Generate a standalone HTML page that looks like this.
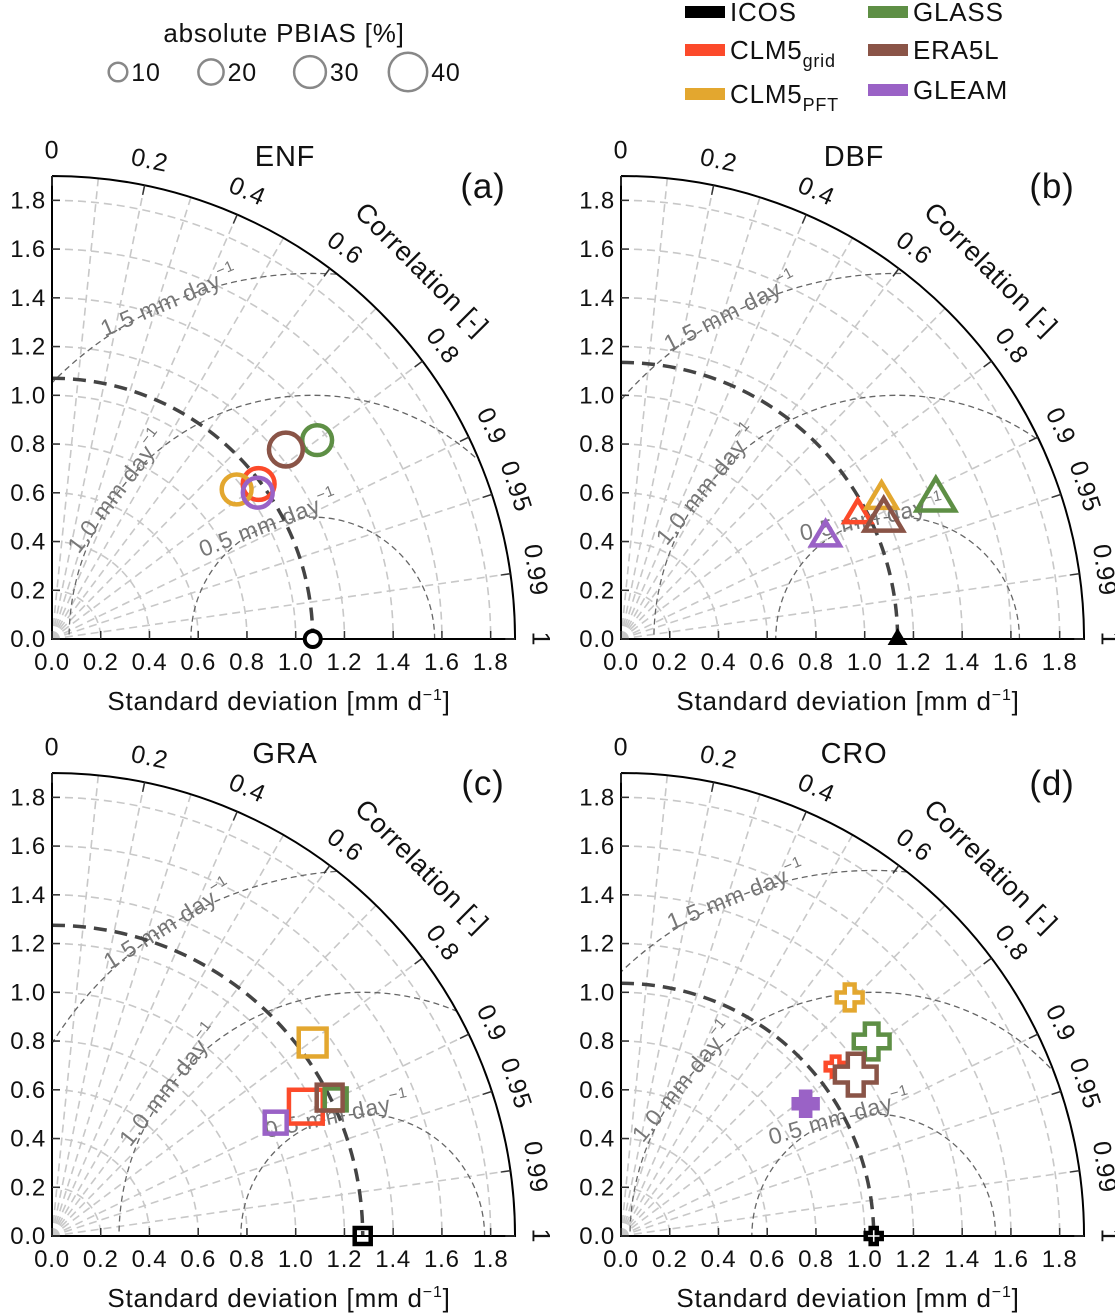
<!DOCTYPE html>
<html><head><meta charset="utf-8"><style>
html,body{margin:0;background:#fff;overflow:hidden;width:1115px;height:1313px}
svg{display:block;font-family:"Liberation Sans","DejaVu Sans",sans-serif}
svg text{letter-spacing:0.8px}
</style></head><body>
<svg id="c" width="1115" height="1313" viewBox="0 0 1115 1313"></svg>
<script>
// ---- data ----
const products=["CLM5grid","CLM5PFT","GLASS","ERA5L","GLEAM"];
const refStd=[1.07,1.135,1.275,1.037];
const stdA=[1.06,0.975,1.36,1.235,1.036];
const corA=[0.80,0.777,0.80,0.777,0.815];
const pbA=[27,24,24,30,24];
const stdB=[1.099,1.215,1.415,1.186,0.939];
const corB=[0.884,0.88,0.913,0.909,0.894];
const pbB=[21,27,40,40,24];
const stdC=[1.169,1.332,1.292,1.273,1.029];
const corC=[0.891,0.803,0.901,0.895,0.892];
const pbC=[30,21,12,18,12];
const stdD=[1.122,1.356,1.302,1.169,0.932];
const corD=[0.785,0.692,0.79,0.824,0.813];
const pbD=[9,18,33,42,15];
const titles=["ENF","DBF","GRA","CRO"];
const letters=["(a)","(b)","(c)","(d)"];
const corTicks=[0,0.2,0.4,0.6,0.8,0.9,0.95,0.99,1];
const corGrid=[0.1,0.2,0.3,0.4,0.5,0.6,0.7,0.8,0.9,0.95,0.99];
const stdTicks=[0,0.2,0.4,0.6,0.8,1.0,1.2,1.4,1.6,1.8];
const rmsLevels=[0.5,1.0,1.5];
const rmsLabelAng=[[111,143,113],[102,141,117],[102,142,122],[106,141,112]];
const legendPbias=[10,20,30,40];
const colors={ICOS:"#000",CLM5grid:"#fc4a2a",CLM5PFT:"#e3a72f",GLASS:"#5e8f45",ERA5L:"#8a5447",GLEAM:"#9a62c6"};
// ---- drawing ----
const NS="http://www.w3.org/2000/svg";
const svg=document.getElementById('c');
const S=243.7, RMAX=1.9;
function mk(tag,at,parent){const e=document.createElementNS(NS,tag);for(const k in at)e.setAttribute(k,at[k]);(parent||svg).appendChild(e);return e;}
function txt(x,y,s,size,at,parent){const t=mk('text',Object.assign({x:x,y:y,'font-size':size,fill:'#111'},at||{}),parent);t.textContent=s;return t;}
function msize(p){return 7+0.33*p;}
function marker(g,shape,x,y,r,col,filled){
  let e;
  if(shape==='circle'){e=mk('circle',{cx:x,cy:y,r:r,fill:'none',stroke:col,'stroke-width':4.5},g);}
  else if(shape==='tri'){const h=r;e=mk('polygon',{points:`${x},${y-h} ${x+h*0.95},${y+h*0.6} ${x-h*0.95},${y+h*0.6}`,fill:'none',stroke:col,'stroke-width':4.5},g);}
  else if(shape==='sq'){e=mk('rect',{x:x-r,y:y-r,width:2*r,height:2*r,fill:'none',stroke:col,'stroke-width':4.5},g);}
  else {const a=r, b=r*0.38;
    e=mk('polygon',{points:`${x-b},${y-a} ${x+b},${y-a} ${x+b},${y-b} ${x+a},${y-b} ${x+a},${y+b} ${x+b},${y+b} ${x+b},${y+a} ${x-b},${y+a} ${x-b},${y+b} ${x-a},${y+b} ${x-a},${y-b} ${x-b},${y-b}`,fill:filled?col:'#fff',stroke:col,'stroke-width':4.5},g);}
  return e;
}
const panels=[
 {ox:52,oy:639,std:stdA,cor:corA,pb:pbA,shape:'circle'},
 {ox:621,oy:639,std:stdB,cor:corB,pb:pbB,shape:'tri'},
 {ox:52,oy:1236,std:stdC,cor:corC,pb:pbC,shape:'sq'},
 {ox:621,oy:1236,std:stdD,cor:corD,pb:pbD,shape:'plus'}];
panels.forEach((P,pi)=>{
  const g=mk('g',{});
  
  
  const X=(s,c)=>P.ox+s*c*S, Y=(s,c)=>P.oy-s*Math.sqrt(Math.max(0,1-c*c))*S;
  for(let s=0.2;s<RMAX-0.01;s+=0.2){
    const a=mk('path',{d:`M${P.ox} ${P.oy-s*S} A${s*S} ${s*S} 0 0 1 ${P.ox+s*S} ${P.oy}`,fill:'none',stroke:'#c8c8c8','stroke-width':1.6,'stroke-dasharray':'8,5'},g);
    
  }
  corGrid.forEach(c=>{
    const l=mk('line',{x1:P.ox,y1:P.oy,x2:X(RMAX,c),y2:Y(RMAX,c),stroke:'#c8c8c8','stroke-width':1.6,'stroke-dasharray':'8,5'},g);
    
  });
  const cid='clip'+pi;
  const cp=mk('clipPath',{id:cid},g);
  mk('path',{d:`M${P.ox} ${P.oy} L${P.ox} ${P.oy-RMAX*S} A${RMAX*S} ${RMAX*S} 0 0 1 ${P.ox+RMAX*S} ${P.oy} Z`},cp);
  const ref=refStd[pi];
  rmsLevels.forEach((r,ri)=>{
    const c=mk('circle',{cx:P.ox+ref*S,cy:P.oy,r:r*S,fill:'none',stroke:'#666','stroke-width':1.3,'stroke-dasharray':'6,4','clip-path':`url(#${cid})`},g);
    
    const ph=rmsLabelAng[pi][ri]*Math.PI/180;
    const lx=P.ox+ref*S+r*S*Math.cos(ph), ly=P.oy-r*S*Math.sin(ph);
    const t=txt(lx,ly,'',23,{fill:'#777','text-anchor':'middle','dominant-baseline':'middle',transform:`rotate(${-(rmsLabelAng[pi][ri]-90)} ${lx} ${ly})`},g);
    t.innerHTML=r.toFixed(1)+' mm day<tspan dy="-9" font-size="15">−1</tspan>';
    
  });
  const ra=mk('path',{d:`M${P.ox} ${P.oy-ref*S} A${ref*S} ${ref*S} 0 0 1 ${P.ox+ref*S} ${P.oy}`,fill:'none',stroke:'#444','stroke-width':3.5,'stroke-dasharray':'13,8'},g);
  
  const ax=mk('path',{d:`M${P.ox} ${P.oy-RMAX*S} L${P.ox} ${P.oy} L${P.ox+RMAX*S} ${P.oy} A${RMAX*S} ${RMAX*S} 0 0 0 ${P.ox} ${P.oy-RMAX*S}`,fill:'none',stroke:'#000','stroke-width':2},g);
  
  stdTicks.forEach(s=>{
    mk('line',{x1:P.ox+s*S,y1:P.oy,x2:P.ox+s*S,y2:P.oy-8,stroke:'#333','stroke-width':1.5},g);
    mk('line',{x1:P.ox,y1:P.oy-s*S,x2:P.ox+8,y2:P.oy-s*S,stroke:'#333','stroke-width':1.5},g);
    const tx=txt(P.ox+s*S,P.oy+31,s.toFixed(1),24,{'text-anchor':'middle'},g);
    
    const ty=txt(P.ox-6,P.oy-s*S+8,s.toFixed(1),24,{'text-anchor':'end'},g);
    
  });
  corTicks.forEach(c=>{
    mk('line',{x1:X(RMAX,c),y1:Y(RMAX,c),x2:X(RMAX-0.04,c),y2:Y(RMAX-0.04,c),stroke:'#333','stroke-width':1.5},g);
    const th=Math.acos(c), rr=RMAX*S+24;
    const lx=P.ox+rr*Math.cos(th), ly=P.oy-rr*Math.sin(th);
    const t=txt(lx,ly,String(c),25,{'text-anchor':'middle','dominant-baseline':'middle',transform:`rotate(${90-th*180/Math.PI} ${lx} ${ly})`},g);
    
  });
  {const th=Math.PI/4, rr=RMAX*S+58;const lx=P.ox+rr*Math.cos(th), ly=P.oy-rr*Math.sin(th);
   const t=txt(lx,ly,'Correlation [-]',27,{'text-anchor':'middle','dominant-baseline':'middle',transform:`rotate(45 ${lx} ${ly})`},g);
   }
  const xt=txt(P.ox+227,P.oy+71,'',26,{'text-anchor':'middle','letter-spacing':'1.6px'},g);
  xt.innerHTML='Standard deviation [mm d<tspan dy="-10" font-size="16">−1</tspan><tspan dy="10">]</tspan>';
  
  const tt=txt(P.ox+233,P.oy-473,titles[pi],29,{'text-anchor':'middle'},g);
  
  const lt=txt(P.ox+431,P.oy-441,letters[pi],35,{'text-anchor':'middle'},g);
  
  P.std.forEach((s,i)=>{
    const m=marker(g,P.shape,X(s,P.cor[i]),Y(s,P.cor[i]),msize(P.pb[i]),colors[products[i]],P.shape==='plus'&&products[i]==='GLEAM');
    
    
  });
  const rx=P.ox+ref*S, ry=P.oy;
  let im;
  if(P.shape==='circle'){im=mk('circle',{cx:rx,cy:ry,r:8,fill:'#fff',stroke:'#000','stroke-width':4},g);}
  else if(P.shape==='tri'){im=mk('polygon',{points:`${rx},${ry-11} ${rx+10},${ry+6} ${rx-10},${ry+6}`,fill:'#000'},g);}
  else im=marker(g,P.shape,rx,ry,8,'#000',false);
  
  
});
const lg=mk('g',{});

txt(284,42,'absolute PBIAS [%]',26,{'text-anchor':'middle','letter-spacing':'1.2px'},lg);
const lgx=[118,211,310,408];
legendPbias.forEach((p,i)=>{
  const c=mk('circle',{cx:lgx[i],cy:72,r:msize(p)-1,fill:'none',stroke:'#888','stroke-width':2.5},lg);
  
  txt(lgx[i]+msize(p)+3,81,String(p),25,{},lg);
});
const pl=mk('g',{});

const leg=[["ICOS",685,12,""],["CLM5",685,50,"grid"],["CLM5",685,94,"PFT"],["GLASS",868,12,""],["ERA5L",868,50,""],["GLEAM",868,90,""]];
leg.forEach((L,i)=>{
  const key=L[0]+L[3];
  const r=mk('rect',{x:L[1],y:L[2]-6,width:40,height:12,fill:colors[key]},pl);
  
  const t=txt(L[1]+45,L[2]+9,'',26,{'letter-spacing':'1.2px'},pl);
  t.innerHTML=L[0]+(L[3]?'<tspan dy="8" font-size="18">'+L[3]+'</tspan>':'');
  
});
</script>
</body></html>
